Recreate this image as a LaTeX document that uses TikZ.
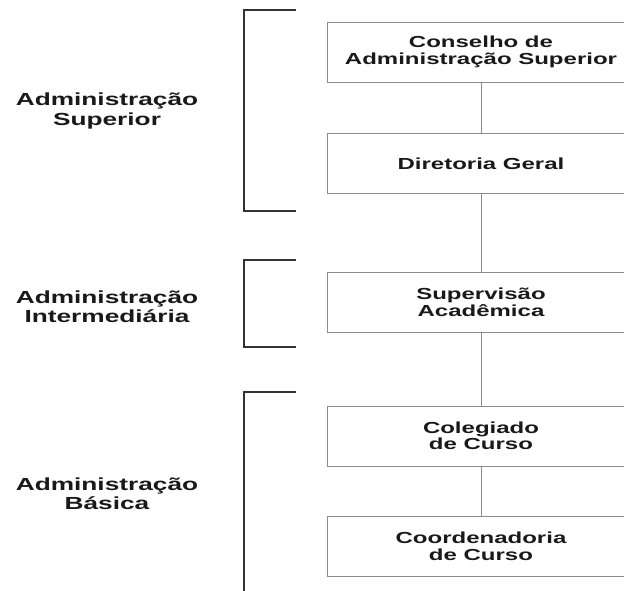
\documentclass[tikz,border=0pt]{standalone}
\usepackage{fontspec}
\setmainfont{Liberation Sans}[FakeStretch=1.5]
\tikzset{
  unit/.style={draw=gray!90,line width=1pt,minimum width=308pt,minimum height=60pt,
    align=center,font=\fontsize{16}{16.5}\selectfont\bfseries,text=black!90},
  level/.style={align=center,font=\fontsize{17.5}{19.5}\selectfont\bfseries,text=black!90},
  link/.style={draw=gray!90,line width=1pt},
  bracket/.style={draw=black!80,line width=2.6pt}
}
\begin{document}
\begin{tikzpicture}[x=1pt,y=-1pt]
            \useasboundingbox (0,0) rectangle (624,590);

            \node[unit] (conselho) at (481, 52)    {Conselho de\\Administração Superior};
            \node[unit] (diretoria) at (481, 163.5) {Diretoria Geral};
            \node[unit] (supervisao) at (481, 302.5) {Supervisão\\Acadêmica};
            \node[unit] (colegiado) at (481, 436)    {Colegiado\\de Curso};
            \node[unit] (coordenadoria) at (481, 546.5) {Coordenadoria\\de Curso};

            \draw[link] (conselho) -- (diretoria);
            \draw[link] (diretoria) -- (supervisao);
            \draw[link] (supervisao) -- (colegiado);
            \draw[link] (colegiado) -- (coordenadoria);

            \draw[bracket] (296, 10) -- (244, 10) -- (244, 211) -- (296, 211);
            \draw[bracket] (296, 260) -- (244, 260) -- (244, 347) -- (296, 347);
            \draw[bracket] (296, 392) -- (244, 392) -- (244, 595);

            \node[level] (superior) at (107, 111) {Administração\\Superior};
            \node[level] (intermediaria) at (107, 306.5) {Administração\\Intermediária};
            \node[level] (basica) at (107, 493.5) {Administração\\Básica};
        \end{tikzpicture}
\end{document}
